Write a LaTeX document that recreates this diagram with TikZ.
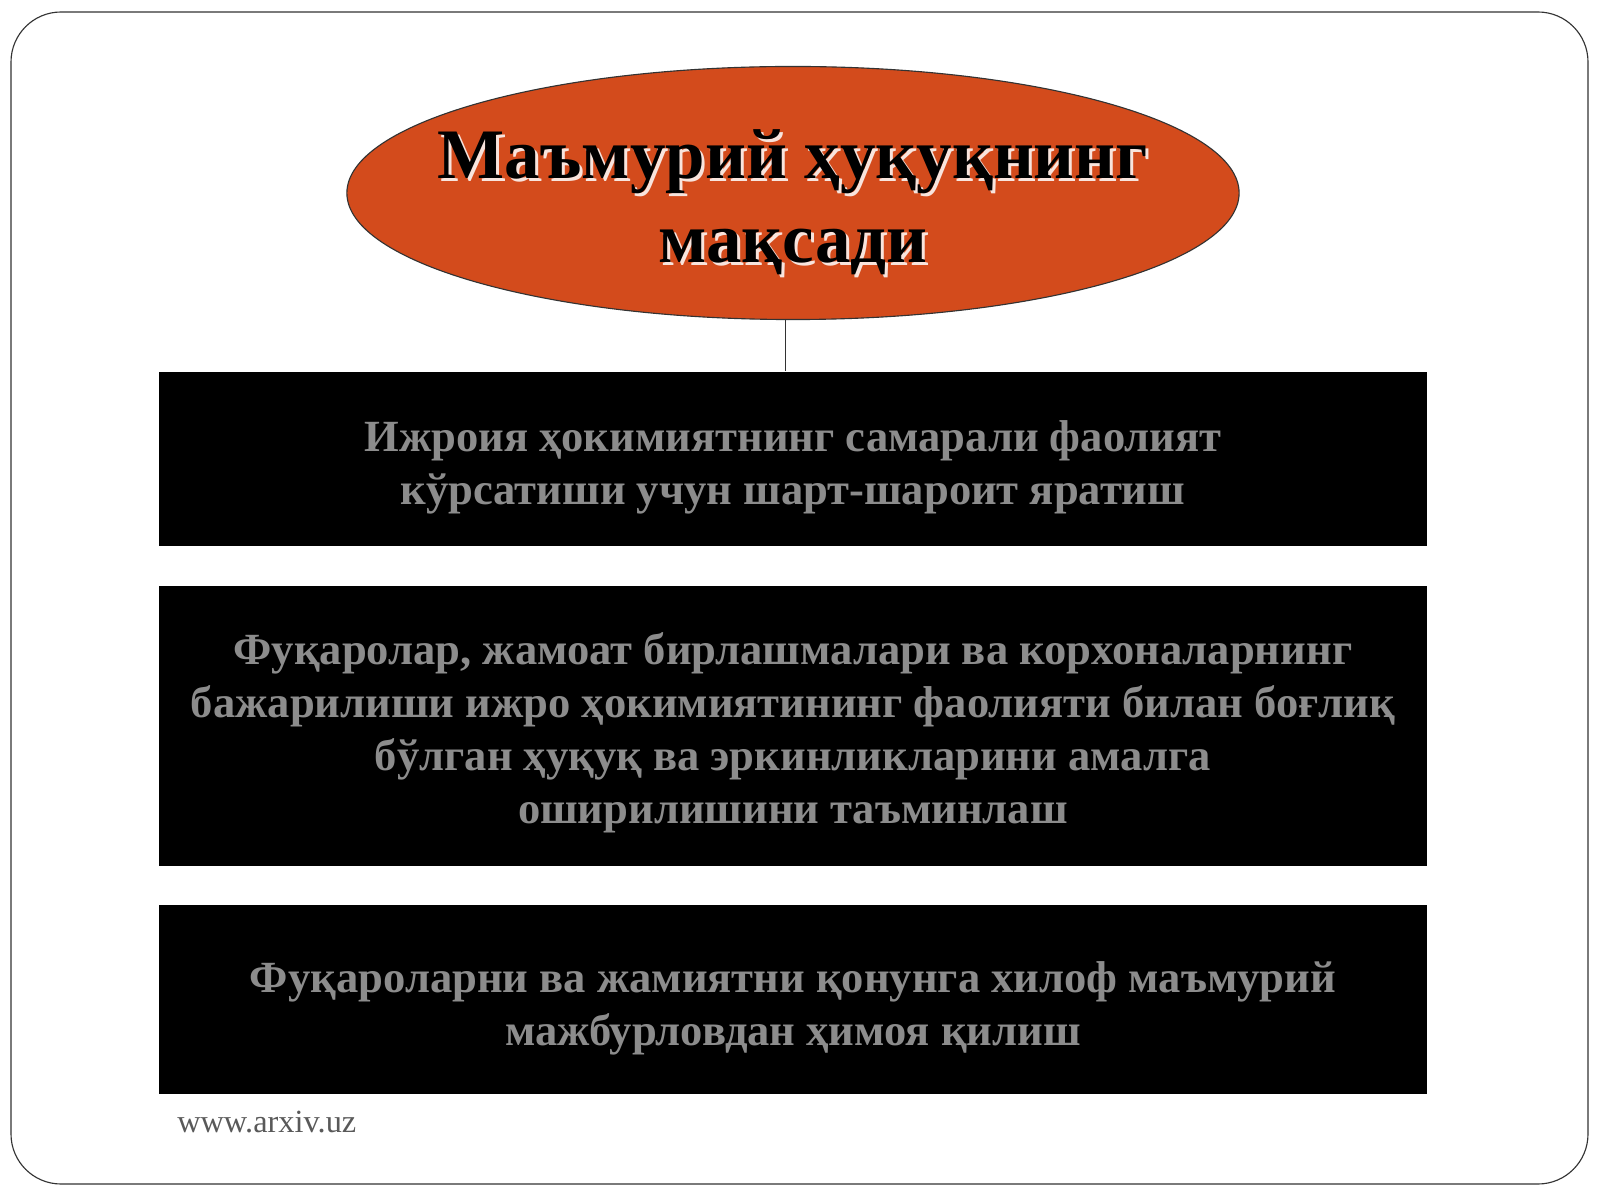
\documentclass[tikz,border=0pt]{standalone}
\usepackage{fontspec}
\setmainfont{Liberation Serif}
\usetikzlibrary{shapes.geometric}

\definecolor{aimred}{RGB}{211,75,28}
\definecolor{goalgray}{RGB}{140,140,140}

\begin{document}
\begin{tikzpicture}[x=0.025cm, y=-0.025cm, line width=0.8pt]
    \tikzstyle{aim}=[ellipse, draw=black!80, fill=aimred, minimum width=22.3cm, minimum height=6.325cm, inner sep=0pt]
    \tikzstyle{title}=[align=center, font=\bfseries\fontsize{50.5}{60}\selectfont]
    \tikzstyle{goal}=[rectangle, fill=black, minimum width=31.7cm, inner sep=0pt]
    \tikzstyle{goal text}=[text=goalgray, align=center, font=\bfseries\fontsize{31.7}{37.7}\selectfont]

    % Page frame
    \useasboundingbox (0,0) rectangle (1600,1200);
    \draw[black!80, rounded corners=1.25cm] (11,12) rectangle (1588,1184);

    % Aim ellipse
    \node[aim] (aim) at (793,193) {};
    \node[title, text=white!85!aimred] (aim-shadow) at (796,205) {Маъмурий ҳуқуқнинг\\мақсади};
    \node[title, text=black] (aim-text) at (793,202) {Маъмурий ҳуқуқнинг\\мақсади};

    % Goal boxes
    \node[goal, minimum height=4.35cm] (goal-1) at (793,459) {};
    \node[goal, minimum height=7cm] (goal-2) at (793,726) {};
    \node[goal, minimum height=4.725cm] (goal-3) at (793,999.5) {};

    % Goal texts
    \node[goal text] (goal-1-text) at ([yshift=-0.2cm]goal-1.center) {Ижроия ҳокимиятнинг самарали фаолият\\кўрсатиши учун шарт-шароит яратиш};
    \node[goal text] (goal-2-text) at ([yshift=-0.18cm]goal-2.center) {Фуқаролар, жамоат бирлашмалари ва корхоналарнинг\\бажарилиши ижро ҳокимиятининг фаолияти билан боғлиқ\\бўлган ҳуқуқ ва эркинликларини амалга\\оширилишини таъминлаш};
    \node[goal text] (goal-3-text) at ([yshift=-0.22cm]goal-3.center) {Фуқароларни ва жамиятни қонунга хилоф маъмурий\\мажбурловдан ҳимоя қилиш};

    % Connector
    \draw[black!80] ([xshift=-0.18cm]aim.south) -- ([xshift=-0.18cm]goal-1.north);

    % Footer
    \node[text=black!65, font=\fontsize{23}{27}\selectfont, anchor=base west] (site) at (172,1132) {www.arxiv.uz};
\end{tikzpicture}
\end{document}
